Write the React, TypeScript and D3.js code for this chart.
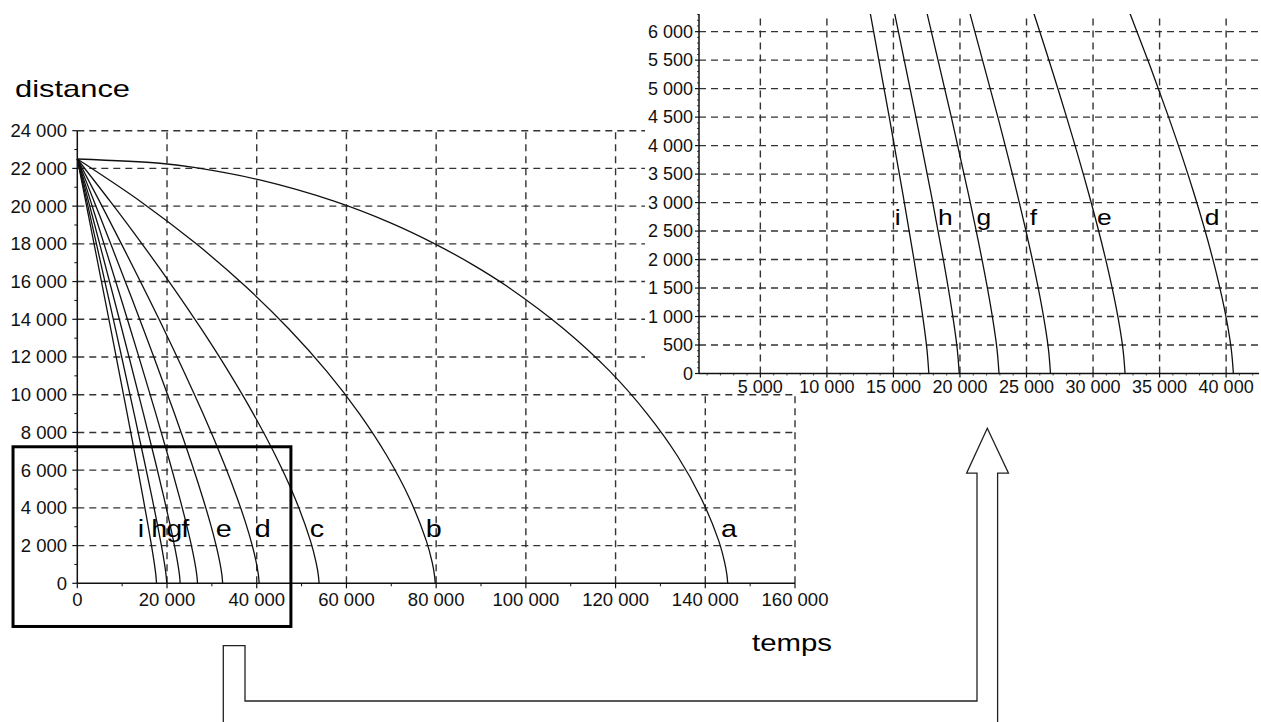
import React from "react";
import * as d3 from "d3";

// ---------- DATA (temps, distance) ----------
const curveA: [number, number][] = [
  [0, 22500], [18400, 22275], [26000, 22050], [40900, 21375], [57400, 20250], [69700, 19125],
  [79700, 18000], [88300, 16875], [95800, 15750], [108400, 13500], [118700, 11250], [127000, 9000],
  [133800, 6750], [139100, 4500], [143000, 2250], [144300, 1125], [144820, 450], [145000, 0],
];
const curveB: [number, number][] = [
  [0, 22500], [14100, 20250], [26518, 18000], [37477, 15750], [47128, 13500], [55576, 11250],
  [62877, 9000], [69050, 6750], [74068, 4500], [77813, 2250], [79104, 1125], [79619, 450], [79793, 0],
];
const curveC: [number, number][] = [
  [0, 22500], [7348, 20250], [14424, 18000], [21194, 15750], [27622, 13500], [33646, 11250],
  [39213, 9000], [44229, 6750], [48558, 4500], [51983, 2250], [53217, 1125], [53727, 450], [53900, 0],
];
const curveD: [number, number][] = [
  [0, 22500], [4960, 20250], [9834, 18000], [19248, 13500], [28022, 9000], [32803, 6300],
  [35679, 4500], [37599, 3150], [38980, 2025], [39880, 1125], [40373, 450], [40545, 0],
];
const curveE: [number, number][] = [
  [0, 22500], [3742, 20250], [7448, 18000], [14708, 13500], [21661, 9000], [25579, 6300],
  [28011, 4500], [29685, 3150], [30927, 2025], [31764, 1125], [32237, 450], [32406, 0],
];
const curveF: [number, number][] = [
  [0, 22500], [2987, 20250], [5954, 18000], [11811, 13500], [17503, 9000], [20774, 6300],
  [22847, 4500], [24306, 3150], [25416, 2025], [26186, 1125], [26636, 450], [26802, 0],
];
const curveG: [number, number][] = [
  [0, 22500], [2498, 20250], [4985, 18000], [9913, 13500], [14741, 9000], [17549, 6300],
  [19351, 4500], [20638, 3150], [21635, 2025], [22345, 1125], [22772, 450], [22934, 0],
];
const curveH: [number, number][] = [
  [0, 22500], [2137, 20250], [4268, 18000], [8499, 13500], [12667, 9000], [15109, 6300],
  [16691, 4500], [17834, 3150], [18731, 2025], [19382, 1125], [19785, 450], [19944, 0],
];
const curveI: [number, number][] = [
  [0, 22500], [1871, 20250], [3737, 18000], [7449, 13500], [11117, 9000], [13279, 6300],
  [14687, 4500], [15711, 3150], [16526, 2025], [17126, 1125], [17507, 450], [17661, 0],
];

const mainCurves = [curveA, curveB, curveC, curveD, curveE, curveF, curveG, curveH, curveI];
const insetCurves = [curveD, curveE, curveF, curveG, curveH, curveI];

// curve letters: [letter, temps, distance]
const mainLabels: [string, number, number][] = [
  ["i", 13500, 2450], ["h", 16500, 2450], ["g", 19850, 2450], ["f", 23200, 2450],
  ["e", 30850, 2450], ["d", 39550, 2450], ["c", 51800, 2450], ["b", 77700, 2450], ["a", 143500, 2450],
];
const insetLabels: [string, number, number][] = [
  ["i", 15100, 2600], ["h", 18350, 2600], ["g", 21250, 2600], ["f", 25250, 2600],
  ["e", 30300, 2600], ["d", 38400, 2600],
];

const mainXTicks = [0, 20000, 40000, 60000, 80000, 100000, 120000, 140000, 160000];
const mainYTicks = [0, 2000, 4000, 6000, 8000, 10000, 12000, 14000, 16000, 18000, 20000, 22000, 24000];
const insetXTicks = [5000, 10000, 15000, 20000, 25000, 30000, 35000, 40000];
const insetYTicks = [0, 500, 1000, 1500, 2000, 2500, 3000, 3500, 4000, 4500, 5000, 5500, 6000];

// zoom rectangle drawn on the main chart (in data units)
const zoomBox = { t0: -14330, t1: 47620, d0: -2290, d1: 7240 };

const fmt = (v: number) => d3.format(",")(v).replace(/,/g, " ");

const FONT = "'Liberation Sans', Arial, Helvetica, sans-serif";
const GRID = "#333";
const DASH = "7 5";

export default function App() {
  // main chart scales
  const xs = d3.scaleLinear().domain([0, 160000]).range([77.3, 795]);
  const ys = d3.scaleLinear().domain([0, 24000]).range([583.3, 130.7]);
  // inset scales
  const xi = d3.scaleLinear().domain([390, 42470]).range([699, 1259]);
  const yi = d3.scaleLinear().domain([0, 6310]).range([373.5, 14]);

  const lineMain = d3
    .line<[number, number]>()
    .x((d) => xs(d[0]))
    .y((d) => ys(d[1]))
    .curve(d3.curveCatmullRom.alpha(0.5));
  const lineInset = d3
    .line<[number, number]>()
    .x((d) => xi(d[0]))
    .y((d) => yi(d[1]))
    .curve(d3.curveCatmullRom.alpha(0.5));

  const mainMinorY = d3.range(1000, 24000, 2000);
  const mainMinorX = d3.range(10000, 160000, 20000);
  const insetMinorY = d3.range(0, 6301, 100).filter((v) => v % 500 !== 0);
  const insetMinorX = d3.range(1000, 42001, 1000).filter((v) => v % 5000 !== 0);

  const [x0, x1] = xs.range();
  const [y0, y1] = ys.range();
  const [ix0, ix1] = xi.range();
  const [iy0, iy1] = yi.range();

  // hollow arrow outline (layout decoration)
  const arrow = "M223.3,730 V645.7 H245 V701 H977 V473.2 H966.6 L987.3,428.3 L1008.5,473.2 H997.6 V730";

  return (
    <svg
      width={1261}
      height={722}
      style={{ position: "absolute", left: 0, top: 0, background: "#fff" }}
      fontFamily={FONT}
    >
      <rect x={0} y={0} width={1261} height={722} fill="#fff" />

      {/* ---------- MAIN CHART ---------- */}
      <g>
        {mainYTicks.filter((v) => v > 0).map((v) => (
          <line key={"hg" + v} x1={x0} x2={x1} y1={ys(v)} y2={ys(v)} stroke={GRID} strokeWidth={1.4} strokeDasharray={DASH} />
        ))}
        {mainXTicks.filter((v) => v > 0).map((v) => (
          <line key={"vg" + v} x1={xs(v)} x2={xs(v)} y1={y0} y2={y1} stroke={GRID} strokeWidth={1.4} strokeDasharray={DASH} />
        ))}

        {mainCurves.map((c, i) => (
          <path key={"mc" + i} d={lineMain(c) || ""} fill="none" stroke="#111" strokeWidth={1.3} />
        ))}

        {/* axes */}
        <line x1={x0} x2={x0} y1={y0} y2={y1} stroke="#111" strokeWidth={1.5} />
        <line x1={x0} x2={x1} y1={y0} y2={y0} stroke="#111" strokeWidth={1.5} />
        {mainYTicks.map((v) => (
          <line key={"yt" + v} x1={x0 - 5} x2={x0} y1={ys(v)} y2={ys(v)} stroke="#111" strokeWidth={1.2} />
        ))}
        {mainMinorY.map((v) => (
          <line key={"ymt" + v} x1={x0 - 3} x2={x0} y1={ys(v)} y2={ys(v)} stroke="#111" strokeWidth={1} />
        ))}
        {mainXTicks.map((v) => (
          <line key={"xt" + v} x1={xs(v)} x2={xs(v)} y1={y0} y2={y0 + 5} stroke="#111" strokeWidth={1.2} />
        ))}
        {mainMinorX.map((v) => (
          <line key={"xmt" + v} x1={xs(v)} x2={xs(v)} y1={y0} y2={y0 + 3} stroke="#111" strokeWidth={1} />
        ))}
        {mainYTicks.map((v) => (
          <text key={"yl" + v} x={67} y={ys(v)} dy="0.35em" textAnchor="end" fontSize={18.5} fill="#111">
            {fmt(v)}
          </text>
        ))}
        {mainXTicks.map((v) => (
          <text key={"xl" + v} x={xs(v)} y={606} textAnchor="middle" fontSize={18.5} fill="#111">
            {fmt(v)}
          </text>
        ))}

        {mainLabels.map(([s, t, d]) => (
          <text
            key={"ml" + s}
            transform={`translate(${xs(t)},${ys(d)}) scale(1.2,1)`}
            fontSize={24}
            fill="#000"
          >
            {s}
          </text>
        ))}

        {/* zoom box */}
        <rect
          x={xs(zoomBox.t0)}
          y={ys(zoomBox.d1)}
          width={xs(zoomBox.t1) - xs(zoomBox.t0)}
          height={ys(zoomBox.d0) - ys(zoomBox.d1)}
          fill="none"
          stroke="#000"
          strokeWidth={3}
        />

        <text x={15} y={96.5} fontSize={24} textLength={115} lengthAdjust="spacingAndGlyphs" fill="#000">
          distance
        </text>
        <text x={752} y={651} fontSize={24} textLength={80} lengthAdjust="spacingAndGlyphs" fill="#000">
          temps
        </text>
      </g>

      {/* ---------- INSET ---------- */}
      <g>
        <rect x={645} y={0} width={616} height={394} fill="#fff" />
        <clipPath id="insetClip">
          <rect x={ix0} y={iy1} width={ix1 - ix0} height={iy0 - iy1} />
        </clipPath>
        {insetYTicks.filter((v) => v > 0).map((v) => (
          <line key={"ihg" + v} x1={ix0} x2={ix1} y1={yi(v)} y2={yi(v)} stroke={GRID} strokeWidth={1.4} strokeDasharray={DASH} />
        ))}
        {insetXTicks.map((v) => (
          <line key={"ivg" + v} x1={xi(v)} x2={xi(v)} y1={iy0} y2={iy1} stroke={GRID} strokeWidth={1.4} strokeDasharray={DASH} />
        ))}
        <g clipPath="url(#insetClip)">
          {insetCurves.map((c, i) => (
            <path key={"ic" + i} d={lineInset(c) || ""} fill="none" stroke="#111" strokeWidth={1.3} />
          ))}
        </g>
        <line x1={ix0} x2={ix0} y1={iy0} y2={iy1} stroke="#111" strokeWidth={1.5} />
        <line x1={ix0} x2={ix1} y1={iy0} y2={iy0} stroke="#111" strokeWidth={1.5} />
        {insetYTicks.map((v) => (
          <line key={"iyt" + v} x1={ix0 - 4} x2={ix0} y1={yi(v)} y2={yi(v)} stroke="#111" strokeWidth={1.2} />
        ))}
        {insetMinorY.map((v) => (
          <line key={"iymt" + v} x1={ix0 - 2} x2={ix0} y1={yi(v)} y2={yi(v)} stroke="#111" strokeWidth={0.8} />
        ))}
        {insetXTicks.map((v) => (
          <line key={"ixt" + v} x1={xi(v)} x2={xi(v)} y1={iy0} y2={iy0 + 4} stroke="#111" strokeWidth={1.2} />
        ))}
        {insetMinorX.map((v) => (
          <line key={"ixmt" + v} x1={xi(v)} x2={xi(v)} y1={iy0} y2={iy0 + 2} stroke="#111" strokeWidth={0.8} />
        ))}
        {insetYTicks.map((v) => (
          <text key={"iyl" + v} x={693} y={yi(v)} dy="0.35em" textAnchor="end" fontSize={18} fill="#111">
            {fmt(v)}
          </text>
        ))}
        {insetXTicks.map((v) => (
          <text key={"ixl" + v} x={xi(v)} y={393} textAnchor="middle" fontSize={18} fill="#111">
            {fmt(v)}
          </text>
        ))}
        {insetLabels.map(([s, t, d]) => (
          <text
            key={"il" + s}
            transform={`translate(${xi(t)},${yi(d)}) scale(1.2,1)`}
            fontSize={22}
            fill="#000"
          >
            {s}
          </text>
        ))}
      </g>

      {/* ---------- ARROW ---------- */}
      <path d={arrow} fill="none" stroke="#222" strokeWidth={1.3} />
    </svg>
  );
}
